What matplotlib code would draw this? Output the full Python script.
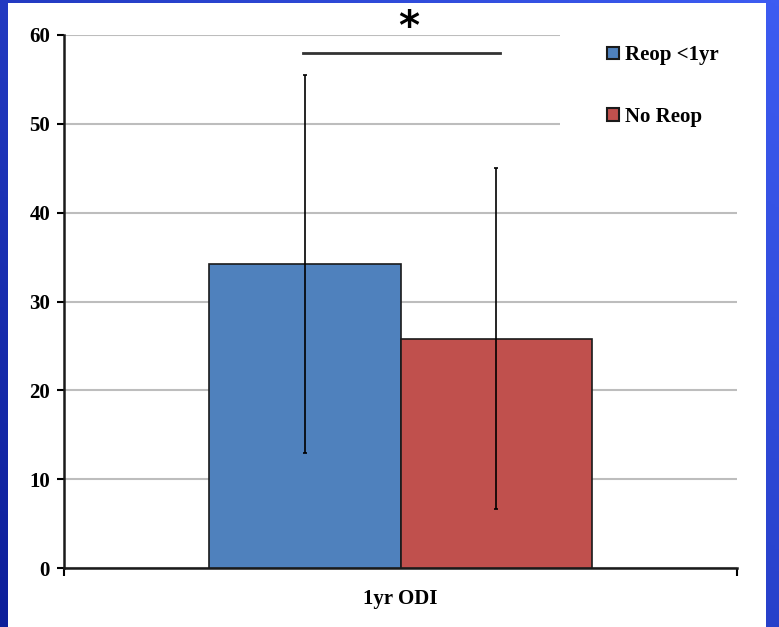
import numpy as np
import matplotlib
matplotlib.use("Agg")
import matplotlib.pyplot as plt
from matplotlib.patches import Rectangle

# data
category = ["1yr ODI"]
groups = ["Reop <1yr", "No Reop"]
means = [34.2, 25.8]
sds = [21.3, 19.2]
colors = ["#4f81bd", "#c0504d"]
sig_level = 58

plt.rcParams['font.family'] = ['Liberation Serif', 'DejaVu Serif']
plt.rcParams['font.weight'] = 'bold'

fig = plt.figure(figsize=(7.79, 6.27), dpi=100)

# blue slide background with white panel
bg = fig.add_axes([0, 0, 1, 1])
gx = np.linspace(0, 1, 200)
gy = np.linspace(0, 1, 200)
GX, GY = np.meshgrid(gx, gy)
grad = 0.55 * GX + 0.45 * (1 - GY)
cmap = matplotlib.colors.LinearSegmentedColormap.from_list("slide", ["#0d1f9a", "#3d5cf2"])
bg.imshow(grad, cmap=cmap, extent=[0, 1, 0, 1], aspect="auto", origin="upper")
bg.add_patch(Rectangle((8 / 779, 0), (766 - 8) / 779, 1 - 3 / 627,
                       facecolor="white", edgecolor="none"))
bg.set_xlim(0, 1)
bg.set_ylim(0, 1)
bg.axis("off")

ax = fig.add_axes([64 / 779, 1 - 568 / 627, (737 - 64) / 779, (568 - 35) / 627])
ax.patch.set_alpha(0)

w = 0.285
x0 = 0
pos = [x0 - w / 2, x0 + w / 2]
for i in range(2):
    ax.bar(pos[i], means[i], width=w, color=colors[i], edgecolor="#1a1a1a",
           linewidth=1.2, label=groups[i], zorder=3)
    ax.errorbar(pos[i], means[i], yerr=sds[i], color="black", elinewidth=1.2,
                capsize=1.5, capthick=1.2, zorder=4)

# significance bar
ax.plot([pos[0] - 0.003, pos[1] + 0.006], [sig_level, sig_level], color="#333333",
        lw=2, zorder=4, clip_on=False)
ax.text(0.013, 60.8, "*", ha="center", va="center", fontsize=29, fontweight="bold",
        family="DejaVu Sans", clip_on=False)

ax.set_xlim(-0.5, 0.5)
ax.set_ylim(0, 60)
ax.set_yticks(np.arange(0, 61, 10))
ax.set_xticks([-0.5, 0.5])
ax.set_xticklabels(["", ""])
ax.set_xticks([0], minor=True)
ax.set_xticklabels(category, minor=True, fontsize=15)
ax.tick_params(axis="x", which="minor", length=0, pad=15)
ax.tick_params(axis="x", which="major", length=6, width=1.5, direction="out")
ax.tick_params(axis="y", length=5, width=1.5, direction="out", labelsize=15, pad=5)

ax.yaxis.grid(True, color="#bdbdbd", linewidth=1.5, zorder=0)
ax.set_axisbelow(True)
for s in ["top", "right"]:
    ax.spines[s].set_visible(False)
for s in ["left", "bottom"]:
    ax.spines[s].set_linewidth(1.8)
    ax.spines[s].set_color("#1a1a1a")

# white area behind the legend hides the top gridlines there
ax.add_patch(Rectangle((0.737, 46), 0.3, 16, transform=ax.get_yaxis_transform(),
                       facecolor="white", edgecolor="none", zorder=1, clip_on=False))

leg = ax.legend(loc="upper left", bbox_to_anchor=(0.792, 1.0), fontsize=15,
                frameon=False, handlelength=0.55, handleheight=0.55, handletextpad=0.3,
                labelspacing=2.0, borderpad=0.5, borderaxespad=0)
leg.set_zorder(5)
for h in leg.legend_handles:
    h.set_linewidth(1.5)

fig.savefig("out.png", dpi=100)
